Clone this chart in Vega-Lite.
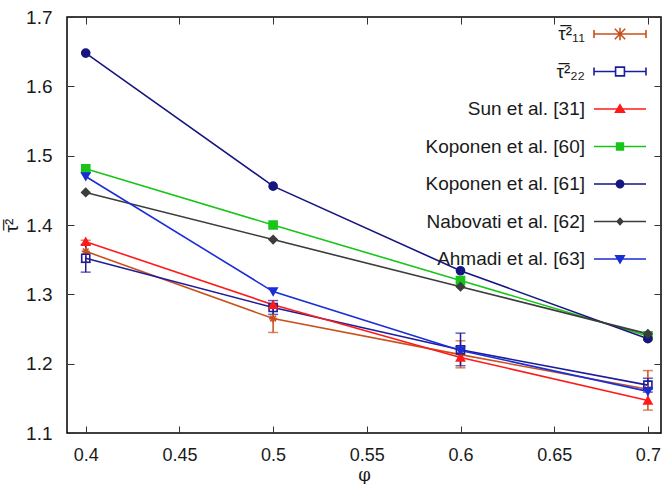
{
  "$schema": "https://vega.github.io/schema/vega-lite/v6.json",
  "autosize": "none",
  "padding": {"left": 67, "top": 17, "right": 2, "bottom": 51},
  "width": 594,
  "height": 416,
  "background": "white",
  "config": {
    "view": {"stroke": "black", "strokeWidth": 1.5},
    "font": "Liberation Sans",
    "axis": {"grid": false, "domain": false, "labelFont": "Liberation Sans", "titleFont": "Liberation Sans", "labelColor": "#1a1a1a", "titleColor": "#1a1a1a", "tickColor": "#333", "labelFontSize": 19, "titleFontWeight": "normal"}
  },
  "data": {"values": [
    {"s": "τ̅²₁₁", "x": 0.4, "y": 1.362, "lo": 1.346, "hi": 1.378},
    {"s": "τ̅²₁₁", "x": 0.5, "y": 1.265, "lo": 1.245, "hi": 1.285},
    {"s": "τ̅²₁₁", "x": 0.6, "y": 1.213, "lo": 1.194, "hi": 1.233},
    {"s": "τ̅²₁₁", "x": 0.7, "y": 1.163, "lo": 1.133, "hi": 1.19},
    {"s": "τ̅²₂₂", "x": 0.4, "y": 1.352, "lo": 1.332, "hi": 1.372},
    {"s": "τ̅²₂₂", "x": 0.5, "y": 1.281, "lo": 1.271, "hi": 1.291},
    {"s": "τ̅²₂₂", "x": 0.6, "y": 1.22, "lo": 1.197, "hi": 1.244},
    {"s": "τ̅²₂₂", "x": 0.7, "y": 1.169, "lo": 1.159, "hi": 1.179},
    {"s": "Sun et al. [31]", "x": 0.4, "y": 1.376},
    {"s": "Sun et al. [31]", "x": 0.5, "y": 1.285},
    {"s": "Sun et al. [31]", "x": 0.6, "y": 1.209},
    {"s": "Sun et al. [31]", "x": 0.7, "y": 1.147},
    {"s": "Koponen et al. [60]", "x": 0.4, "y": 1.481},
    {"s": "Koponen et al. [60]", "x": 0.5, "y": 1.4},
    {"s": "Koponen et al. [60]", "x": 0.6, "y": 1.32},
    {"s": "Koponen et al. [60]", "x": 0.7, "y": 1.24},
    {"s": "Koponen et al. [61]", "x": 0.4, "y": 1.648},
    {"s": "Koponen et al. [61]", "x": 0.5, "y": 1.456},
    {"s": "Koponen et al. [61]", "x": 0.6, "y": 1.334},
    {"s": "Koponen et al. [61]", "x": 0.7, "y": 1.236},
    {"s": "Nabovati et al. [62]", "x": 0.4, "y": 1.447},
    {"s": "Nabovati et al. [62]", "x": 0.5, "y": 1.379},
    {"s": "Nabovati et al. [62]", "x": 0.6, "y": 1.311},
    {"s": "Nabovati et al. [62]", "x": 0.7, "y": 1.243},
    {"s": "Ahmadi et al. [63]", "x": 0.4, "y": 1.47},
    {"s": "Ahmadi et al. [63]", "x": 0.5, "y": 1.304},
    {"s": "Ahmadi et al. [63]", "x": 0.6, "y": 1.219},
    {"s": "Ahmadi et al. [63]", "x": 0.7, "y": 1.16}
  ]},
  "resolve": {
    "scale": {"color": "independent", "shape": "independent", "stroke": "independent", "fill": "independent"},
    "axis": {"x": "independent", "y": "independent"},
    "legend": {"color": "independent", "shape": "independent", "stroke": "independent", "fill": "independent"}
  },
  "layer": [
    {
      "transform": [{"filter": "datum.lo != null"}],
      "mark": {"type": "errorbar", "ticks": {"size": 10}, "thickness": 1.5},
      "encoding": {
        "x": {"field": "x", "type": "quantitative", "scale": {"domain": [0.39, 0.707], "nice": false, "zero": false}, "axis": null},
        "y": {"field": "lo", "type": "quantitative", "scale": {"domain": [1.1, 1.7], "nice": false, "zero": false}, "axis": null},
        "y2": {"field": "hi"},
        "color": {"field": "s", "type": "nominal", "legend": null, "scale": {"domain": ["τ̅²₁₁", "τ̅²₂₂"], "range": ["#c9501c", "#1c1c9c"]}}
      }
    },
    {
      "mark": {"type": "line", "strokeWidth": 1.6},
      "encoding": {
        "x": {"field": "x", "type": "quantitative", "scale": {"domain": [0.39, 0.707], "nice": false, "zero": false},
              "axis": {"orient": "bottom", "values": [0.4, 0.45, 0.5, 0.55, 0.6, 0.65, 0.7], "format": ".2~f", "labelFontSize": 18, "title": "φ", "titleFontSize": 18, "titleFont": "DejaVu Serif", "tickSize": -7, "labelPadding": 20, "titleY": 51, "titleBaseline": "bottom"}},
        "y": {"field": "y", "type": "quantitative", "scale": {"domain": [1.1, 1.7], "nice": false, "zero": false},
              "axis": {"orient": "left", "values": [1.1, 1.2, 1.3, 1.4, 1.5, 1.6, 1.7], "format": ".1f", "title": "τ̅²", "titleFontSize": 19, "tickSize": -7, "labelPadding": 22, "titlePadding": 4}},
        "color": {"field": "s", "type": "nominal", "legend": null,
                  "scale": {"domain": ["τ̅²₁₁", "τ̅²₂₂", "Sun et al. [31]", "Koponen et al. [60]", "Koponen et al. [61]", "Nabovati et al. [62]", "Ahmadi et al. [63]"],
                            "range": ["#c9501c", "#1c1c9c", "#ff1a1a", "#19c519", "#161680", "#3c3c3c", "#1a2ed6"]}},
        "detail": {"field": "s"}
      }
    },
    {
      "mark": {"type": "point", "size": 65, "strokeWidth": 1.6, "opacity": 1},
      "encoding": {
        "x": {"field": "x", "type": "quantitative", "scale": {"domain": [0.39, 0.707], "nice": false, "zero": false},
              "axis": {"orient": "top", "values": [0.4, 0.45, 0.5, 0.55, 0.6, 0.65, 0.7], "labels": false, "title": null, "tickSize": -7}},
        "y": {"field": "y", "type": "quantitative", "scale": {"domain": [1.1, 1.7], "nice": false, "zero": false},
              "axis": {"orient": "right", "values": [1.1, 1.2, 1.3, 1.4, 1.5, 1.6, 1.7], "labels": false, "title": null, "tickSize": -7}},
        "shape": {"field": "s", "type": "nominal", "legend": null,
                  "scale": {"domain": ["τ̅²₁₁", "τ̅²₂₂", "Sun et al. [31]", "Koponen et al. [60]", "Koponen et al. [61]", "Nabovati et al. [62]", "Ahmadi et al. [63]"],
                            "range": ["M-1,0L1,0M-0.7,-0.7L0.7,0.7M-0.7,0.7L0.7,-0.7M0,-1L0,1", "square", "triangle-up", "square", "circle", "diamond", "triangle-down"]}},
        "stroke": {"field": "s", "type": "nominal", "legend": null,
                   "scale": {"domain": ["τ̅²₁₁", "τ̅²₂₂", "Sun et al. [31]", "Koponen et al. [60]", "Koponen et al. [61]", "Nabovati et al. [62]", "Ahmadi et al. [63]"],
                             "range": ["#c9501c", "#1c1c9c", "#ff1a1a", "#19c519", "#161680", "#3c3c3c", "#1a2ed6"]}},
        "fill": {"field": "s", "type": "nominal", "legend": null,
                 "scale": {"domain": ["τ̅²₁₁", "τ̅²₂₂", "Sun et al. [31]", "Koponen et al. [60]", "Koponen et al. [61]", "Nabovati et al. [62]", "Ahmadi et al. [63]"],
                           "range": ["transparent", "transparent", "#ff1a1a", "#19c519", "#161680", "#3c3c3c", "#1a2ed6"]}}
      }
    },
    {
      "transform": [{"filter": "false"}],
      "mark": {"type": "point", "opacity": 1, "strokeWidth": 1.6},
      "encoding": {
        "shape": {"field": "s", "type": "nominal",
                  "legend": {"title": null, "orient": "none", "legendX": 526, "legendY": -10, "padding": 0, "symbolSize": 2704, "symbolStrokeWidth": 1.6, "labelAlign": "right", "labelOffset": -62, "labelFontSize": 19, "labelFont": "Liberation Sans", "labelColor": "#1a1a1a", "rowPadding": 0.5, "labelLimit": 300, "symbolOpacity": 1},
                  "scale": {"domain": ["τ̅²₁₁", "τ̅²₂₂", "Sun et al. [31]", "Koponen et al. [60]", "Koponen et al. [61]", "Nabovati et al. [62]", "Ahmadi et al. [63]"],
                            "range": [
                              "M-1,0L1,0M-1,-0.15L-1,0.15M1,-0.15L1,0.15M-0.2,-0.2L0.2,0.2M-0.2,0.2L0.2,-0.2M0,-0.24L0,0.24",
                              "M-1,0L-0.17,0M0.17,0L1,0M-1,-0.15L-1,0.15M1,-0.15L1,0.15M-0.17,-0.17L0.17,-0.17L0.17,0.17L-0.17,0.17Z",
                              "M-1,0L1,0M0,-0.16L0.17,0.12L-0.17,0.12Z",
                              "M-1,0L1,0M-0.13,-0.13L0.13,-0.13L0.13,0.13L-0.13,0.13Z",
                              "M-1,0L1,0M0.14,0A0.14,0.14 0 1,1 -0.14,0A0.14,0.14 0 1,1 0.14,0Z",
                              "M-1,0L1,0M0,-0.12L0.11,0L0,0.12L-0.11,0Z",
                              "M-1,0L1,0M-0.16,-0.12L0.16,-0.12L0,0.15Z"
                            ]}},
        "stroke": {"field": "s", "type": "nominal", "legend": {"title": null},
                   "scale": {"domain": ["τ̅²₁₁", "τ̅²₂₂", "Sun et al. [31]", "Koponen et al. [60]", "Koponen et al. [61]", "Nabovati et al. [62]", "Ahmadi et al. [63]"],
                             "range": ["#c9501c", "#1c1c9c", "#ff1a1a", "#19c519", "#161680", "#3c3c3c", "#1a2ed6"]}},
        "fill": {"field": "s", "type": "nominal", "legend": {"title": null},
                 "scale": {"domain": ["τ̅²₁₁", "τ̅²₂₂", "Sun et al. [31]", "Koponen et al. [60]", "Koponen et al. [61]", "Nabovati et al. [62]", "Ahmadi et al. [63]"],
                           "range": ["transparent", "transparent", "#ff1a1a", "#19c519", "#161680", "#3c3c3c", "#1a2ed6"]}}
      }
    }
  ]
}
